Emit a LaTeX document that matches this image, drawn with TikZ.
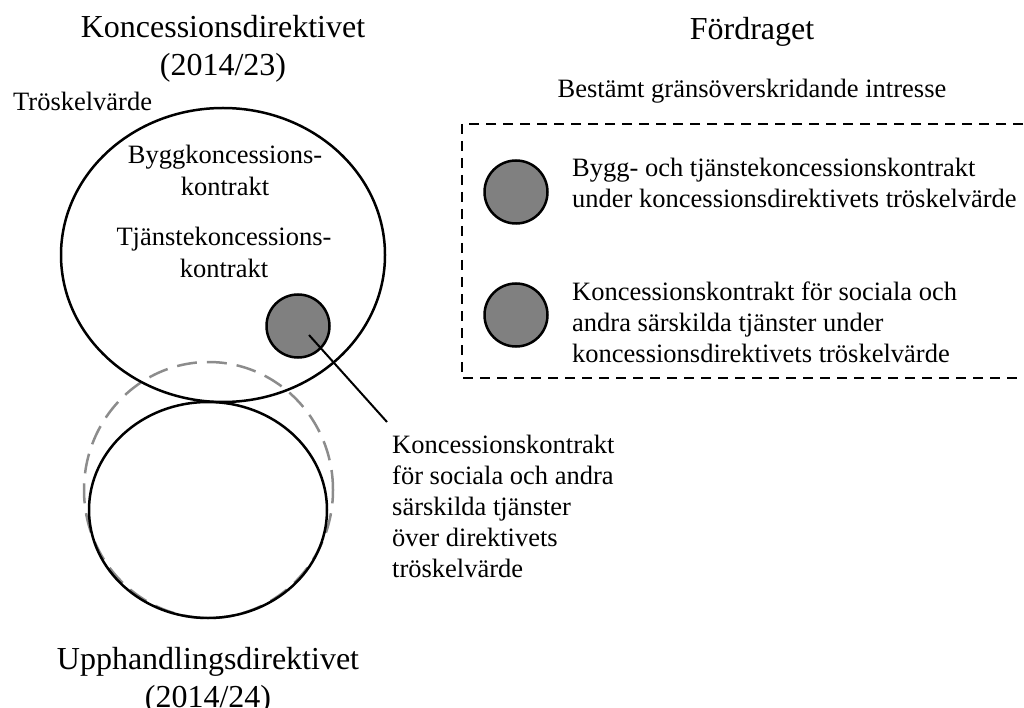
\documentclass[tikz,border=0pt]{standalone}
\usepackage{fontspec}
\setmainfont{Liberation Serif}
\begin{document}
\begin{tikzpicture}[x=1pt,y=-1pt,
  ttl/.style={font=\fontsize{32}{38}\selectfont, inner sep=0pt, align=center},
  txt/.style={font=\fontsize{26.5}{31}\selectfont, inner sep=0pt, align=left},
  ctxt/.style={font=\fontsize{26.5}{32}\selectfont, inner sep=0pt, align=center},
  ring/.style={draw=black, line width=2.5pt},
  dot/.style={circle, draw=black, fill=black!50, line width=2.5pt, minimum size=63pt, inner sep=0pt},
  lead/.style={draw=black, line width=2pt},
  frame/.style={draw=black, line width=2.5pt, dash pattern=on 10pt off 7pt},
  gdash/.style={draw=black!45, line width=2.5pt, dash pattern=on 20pt off 10pt}]
\useasboundingbox (0,0) rectangle (1024,708);
\clip (0,0) rectangle (1024,708);
% circles
\draw[gdash] (208.5,490) ellipse [x radius=124.5pt, y radius=128pt];
\draw[ring] (223,255) ellipse [x radius=162pt, y radius=147pt];
\draw[ring] (208,510) ellipse [x radius=119pt, y radius=108pt];
\node[dot] (sc) at (298,326) {};
% titles
\node[ttl, anchor=north] (kd) at (223,15) {Koncessionsdirektivet\\(2014/23)};
\node[ttl, anchor=north] (ud) at (208,647) {Upphandlingsdirektivet\\(2014/24)};
\node[ttl, anchor=base] (fd) at (752,40) {Fördraget};
\node[txt, anchor=base west] (tv) at (13,111) {Tröskelvärde};
\node[txt, anchor=base] (bg) at (752,98) {Bestämt gränsöverskridande intresse};
% inside top ellipse
\node[ctxt, anchor=north] (bk) at (225,145) {Byggkoncessions-\\kontrakt};
\node[ctxt, anchor=north] (tk) at (224,227) {Tjänstekoncessions-\\kontrakt};
% leader
\node[txt, anchor=north west] (ov) at (392,435) {Koncessionskontrakt\\för sociala och andra\\särskilda tjänster\\över direktivets\\tröskelvärde};
\coordinate (ls) at (309,335);
\coordinate (le) at (387,422);
\draw[lead] (ls) -- (le);
% right frame
\draw[frame] (1040,124) -- (462,124) -- (462,378) -- (1040,378);
\node[dot] (r1) at (516,192) {};
\node[dot] (r2) at (516,315) {};
\node[txt, anchor=north west] (t1) at (572,158) {Bygg- och tjänstekoncessionskontrakt\\under koncessionsdirektivets tröskelvärde};
\node[txt, anchor=north west] (t2) at (572,282) {Koncessionskontrakt för sociala och\\andra särskilda tjänster under\\koncessionsdirektivets tröskelvärde};
\end{tikzpicture}
\end{document}
